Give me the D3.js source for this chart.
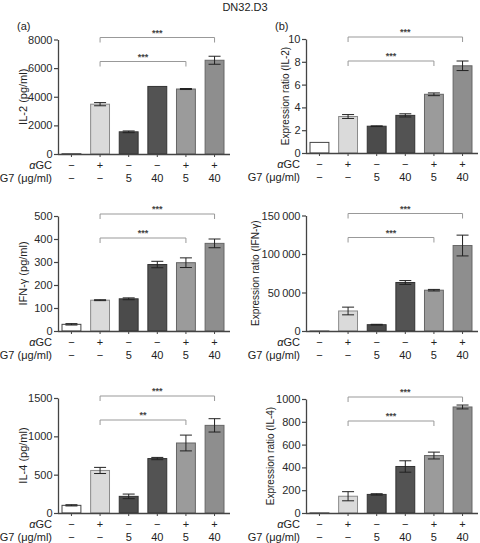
<!DOCTYPE html>
<html>
<head>
<meta charset="utf-8">
<script src="https://cdn.jsdelivr.net/npm/d3@7/dist/d3.min.js"></script>
<style>
  html, body { margin: 0; padding: 0; background: #fff; }
  svg { display: block; font-family: "Liberation Sans", Arial, sans-serif; }
</style>
</head>
<body>
<svg id="chart" width="480" height="543"></svg>
<script>
// ---------- data ----------
const groups = ["g1", "g2", "g3", "g4", "g5", "g6"];
const aGCLabels = ["\u2212", "+", "\u2212", "\u2212", "+", "+"];
const g7Labels = ["\u2212", "\u2212", "5", "40", "5", "40"];

const il2Conc = [20, 3480, 1550, 4720, 4540, 6550];
const il2ConcErr = [0, 110, 60, 0, 35, 280];
const il2Ratio = [0.93, 3.2, 2.35, 3.3, 5.15, 7.65];
const il2RatioErr = [0, 0.17, 0.03, 0.14, 0.12, 0.42];

const ifnConc = [29, 134, 140, 289, 297, 381];
const ifnConcErr = [3, 2, 4, 14, 21, 19];
const ifnRatio = [1, 26000, 8200, 63000, 53000, 111000];
const ifnRatioErr = [0, 5000, 500, 2500, 1000, 13500];

const il4Conc = [100, 555, 217, 710, 913, 1143];
const il4ConcErr = [8, 40, 30, 15, 103, 87];
const il4Ratio = [1, 147, 163, 408, 504, 930];
const il4RatioErr = [0, 40, 6, 50, 30, 17];

const yTicksIl2Conc = [0, 2000, 4000, 6000, 8000];
const yTicksIl2Ratio = [0, 2, 4, 6, 8, 10];
const yTicksIfnConc = [0, 100, 200, 300, 400, 500];
const yTicksIfnRatio = [0, 50000, 100000, 150000];
const yTicksIl4Conc = [0, 500, 1000, 1500];
const yTicksIl4Ratio = [0, 200, 400, 600, 800, 1000];

const sigTop = ["***", "***", "***", "***", "***", "***"];
const sigLow = ["***", "***", "***", "***", "**", "***"];

// ---------- styling / layout ----------
const fills = ["#ffffff", "#dadada", "#4b4b4b", "#535353", "#9b9b9b", "#8e8e8e"];
const strokes = ["#444", "#8a8a8a", "#333", "#333", "#666", "#666"];
const fmtSpace = v => d3.format(",")(v).replace(/,/g, "\u2009");

const panels = [
  { label: "(a)", title: "IL-2 (pg/ml)", vals: il2Conc, errs: il2ConcErr, ticks: yTicksIl2Conc, max: 8000,
    x0: 58, top: 39.5, bottom: 154, labX: 23, tfs: 11, fmt: d => d },
  { label: "(b)", title: "Expression ratio (IL-2)", vals: il2Ratio, errs: il2RatioErr, ticks: yTicksIl2Ratio, max: 10,
    x0: 306, top: 39, bottom: 153, labX: 285, tfs: 10, fmt: d => d },
  { title: "IFN-\u03B3 (pg/ml)", vals: ifnConc, errs: ifnConcErr, ticks: yTicksIfnConc, max: 500,
    x0: 58, top: 216, bottom: 331, labX: 23, tfs: 11, fmt: d => d },
  { title: "Expression ratio (IFN-\u03B3)", vals: ifnRatio, errs: ifnRatioErr, ticks: yTicksIfnRatio, max: 150000,
    x0: 306, top: 215.5, bottom: 331, labX: 255, tfs: 10, fmt: fmtSpace },
  { title: "IL-4 (pg/ml)", vals: il4Conc, errs: il4ConcErr, ticks: yTicksIl4Conc, max: 1500,
    x0: 58, top: 398, bottom: 513, labX: 23, tfs: 11, fmt: d => d },
  { title: "Expression ratio (IL-4)", vals: il4Ratio, errs: il4RatioErr, ticks: yTicksIl4Ratio, max: 1000,
    x0: 306, top: 399, bottom: 513, labX: 270, tfs: 10, fmt: d => d }
];

const svg = d3.select("#chart");

svg.append("text")
  .attr("x", 245).attr("y", 11)
  .attr("text-anchor", "middle")
  .attr("font-size", 11).attr("fill", "#222")
  .text("DN32.D3");

panels.forEach((p, pi) => {
  const g = svg.append("g");
  const x = d3.scaleBand().domain(groups)
    .range([p.x0, p.x0 + 170]).paddingInner(0.34).paddingOuter(0.14);
  const y = d3.scaleLinear().domain([0, p.max]).range([p.bottom, p.top]);
  const cx = i => x(groups[i]) + x.bandwidth() / 2;

  if (p.label) {
    g.append("text").attr("x", p.x0 - (pi === 0 ? 41 : 31)).attr("y", 30)
      .attr("font-size", 11).attr("fill", "#222").text(p.label);
  }

  // bars
  g.selectAll("rect.bar").data(p.vals).join("rect")
    .attr("class", "bar")
    .attr("x", (d, i) => x(groups[i]))
    .attr("width", x.bandwidth())
    .attr("y", d => y(d))
    .attr("height", d => Math.max(0, y(0) - y(d)))
    .attr("fill", (d, i) => fills[i])
    .attr("stroke", (d, i) => strokes[i])
    .attr("stroke-width", 1);

  // error bars
  p.vals.forEach((d, i) => {
    const e = p.errs[i];
    if (!(e > 0)) return;
    const c = cx(i);
    const s = g.append("g").attr("stroke", "#222").attr("stroke-width", 1);
    s.append("line").attr("x1", c).attr("x2", c).attr("y1", y(d + e)).attr("y2", y(d - e));
    s.append("line").attr("x1", c - 6).attr("x2", c + 6).attr("y1", y(d + e)).attr("y2", y(d + e));
    s.append("line").attr("x1", c - 6).attr("x2", c + 6).attr("y1", y(d - e)).attr("y2", y(d - e));
  });

  // y axis
  const ya = g.append("g").attr("transform", `translate(${p.x0},0)`)
    .call(d3.axisLeft(y).tickValues(p.ticks).tickFormat(p.fmt).tickSize(4).tickSizeOuter(0).tickPadding(1.5));
  ya.select(".domain").attr("stroke", "#444").attr("stroke-width", 1.3);
  ya.selectAll(".tick line").attr("stroke", "#444").attr("stroke-width", 1.2);
  ya.selectAll(".tick text").attr("font-size", 11).attr("fill", "#2a2a2a")
    .attr("font-family", "\"Liberation Sans\", Arial, sans-serif");

  // x axis
  const xa = g.append("g").attr("transform", `translate(0,${p.bottom})`)
    .call(d3.axisBottom(x).tickSize(3).tickSizeOuter(0).tickFormat(""));
  xa.select(".domain").attr("d", `M${p.x0},0.5H${p.x0 + 172}`).attr("stroke", "#444").attr("stroke-width", 1.3);
  xa.selectAll(".tick line").attr("stroke", "#444");

  // y title
  g.append("text")
    .attr("transform", `translate(${p.labX},${(p.top + p.bottom) / 2}) rotate(-90)`)
    .attr("text-anchor", "middle").attr("dominant-baseline", "central")
    .attr("font-size", p.tfs).attr("fill", "#222")
    .text(p.title);

  // condition rows
  const r1 = p.bottom + 15, r2 = p.bottom + 28;
  const t1 = g.append("text").attr("x", p.x0 - 6).attr("y", r1).attr("text-anchor", "end")
    .attr("font-size", 11).attr("fill", "#222");
  t1.append("tspan").attr("font-style", "italic").text("\u03B1");
  t1.append("tspan").text("GC");
  g.append("text").attr("x", p.x0 - 6).attr("y", r2).attr("text-anchor", "end")
    .attr("font-size", 11).attr("fill", "#222").text("G7 (\u03BCg/ml)");
  g.selectAll("text.r1").data(aGCLabels).join("text").attr("class", "r1")
    .attr("x", (d, i) => cx(i)).attr("y", r1).attr("text-anchor", "middle")
    .attr("font-size", 11).attr("fill", "#222").text(d => d);
  g.selectAll("text.r2").data(g7Labels).join("text").attr("class", "r2")
    .attr("x", (d, i) => cx(i)).attr("y", r2).attr("text-anchor", "middle")
    .attr("font-size", 11).attr("fill", "#222").text(d => d);

  // significance brackets
  const brackets = [
    { a: 1, b: 5, yy: p.top - 2, s: sigTop[pi] },
    { a: 1, b: 4, yy: p.top + 22, s: sigLow[pi] }
  ];
  brackets.forEach(br => {
    const xa1 = cx(br.a), xb1 = cx(br.b);
    g.append("path")
      .attr("d", `M${xa1},${br.yy + 5}V${br.yy}H${xb1}V${br.yy + 5}`)
      .attr("fill", "none").attr("stroke", "#999").attr("stroke-width", 1);
    g.append("text").attr("x", (xa1 + xb1) / 2).attr("y", br.yy - 2)
      .attr("text-anchor", "middle").attr("font-size", 9).attr("fill", "#444")
      .attr("font-weight", "bold")
      .text(br.s);
  });
});
</script>
</body>
</html>
